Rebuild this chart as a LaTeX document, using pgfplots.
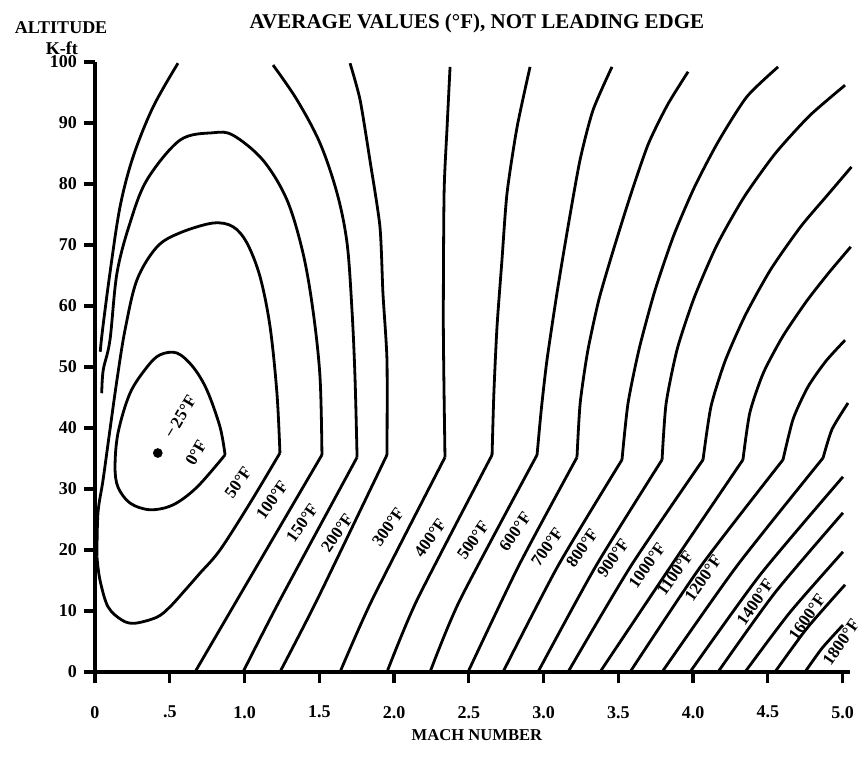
\documentclass[border=0pt]{standalone}
\usepackage{fontspec}
\setmainfont{Liberation Serif}
\usepackage{pgfplots}
\pgfplotsset{compat=1.18}

\begin{document}
\begin{tikzpicture}
\tikzset{
  iso/.style={black, line width=1.4pt, smooth, tension=0.4},
  arch/.style={iso, tension=0.55},
  lbl/.style={font=\bfseries\fontsize{8.5}{9}\selectfont, rotate=55, inner sep=0pt},
}
\begin{axis}[
    x=74.75pt, y=3.05pt,
    xmin=0, xmax=5.05,
    ymin=0, ymax=100,
    axis lines*=left,
    axis line style={line width=2pt},
    clip=false,
    xtick={0,0.5,1,1.5,2,2.5,3,3.5,4,4.5,5},
    xticklabels={0,.5,1.0,1.5,2.0,2.5,3.0,3.5,4.0,4.5,5.0},
    ytick={0,10,20,30,40,50,60,70,80,90,100},
    yticklabels={0,10,20,30,40,50,60,70,80,90,100},
    tick align=outside,
    major tick length=5.5pt,
    tick style={line width=1.6pt, black},
    ticklabel style={font=\bfseries\fontsize{9}{10}\selectfont},
    xticklabel style={yshift=-8pt},
    /pgf/number format/assume math mode=true,
]
\coordinate (O) at (axis cs:0,0);

% 0 F loop and -25 F point
\addplot[arch] coordinates {(0.870,35.6) (0.836,40.2) (0.749,46.2) (0.656,50.0) (0.548,52.3) (0.435,52.0) (0.348,50.0) (0.234,45.7) (0.154,39.2) (0.134,33.6) (0.154,30.3) (0.234,27.7) (0.368,26.6) (0.522,27.4) (0.682,30.3) (0.870,35.6)};
\addplot[only marks, mark=*, mark size=2.2pt, black] coordinates {(0.42,35.9)};

% 50 F
\addplot[arch] coordinates {(0.013,18.9) (0.033,15.1) (0.087,10.7) (0.181,8.5) (0.268,8.0) (0.415,9.0) (0.502,10.7) (0.602,13.4) (0.702,16.2) (0.836,20.0) (1.037,27.7) (1.237,35.9)};
\addplot[arch] coordinates {(1.237,35.9) (1.217,45.7) (1.171,56.6) (1.104,64.8) (1.017,70.3) (0.923,73.0) (0.789,73.6) (0.569,72.0) (0.415,69.7) (0.281,64.3) (0.201,56.1) (0.147,47.9) (0.100,39.7) (0.054,31.5) (0.020,26.1) (0.013,18.9)};

% 100 F
\addplot[iso] coordinates {(0.669,0) (0.950,11.8) (1.518,35.6)};
\addplot[arch] coordinates {(1.518,35.6) (1.505,48.4) (1.458,59.3) (1.391,68.7) (1.284,77.4) (1.124,83.9) (0.923,88.0) (0.789,88.4) (0.569,87.2) (0.348,80.7) (0.234,73.6) (0.147,65.4) (0.100,54.4) (0.055,49.5) (0.045,45.7)};

% 150 F
\addplot[iso] coordinates {(0.990,0) (1.237,11.8) (1.753,35.2)};
\addplot[arch] coordinates {(1.753,35.2) (1.739,48.4) (1.719,59.3) (1.686,70.3) (1.619,78.5) (1.505,86.7) (1.351,93.8) (1.191,99.5)};
\addplot[arch] coordinates {(0.555,99.8) (0.388,92.6) (0.254,84.4) (0.167,76.2) (0.100,65.4) (0.050,56.0) (0.035,52.5)};

% 200 F
\addplot[iso] coordinates {(1.237,0) (1.485,11.8) (1.953,35.6)};
\addplot[iso] coordinates {(1.953,35.6) (1.953,51.1) (1.926,62.1) (1.906,73.0) (1.839,83.9) (1.773,93.8) (1.706,99.8)};

% 300 F
\addplot[iso] coordinates {(1.639,0) (1.853,11.8) (2.341,35.2)};
\addplot[iso] coordinates {(2.341,35.2) (2.330,56.6) (2.335,78.5) (2.355,89.3) (2.375,99.2)};

% 400 F
\addplot[iso] coordinates {(1.953,0) (2.154,11.8) (2.656,35.6)};
\addplot[iso] coordinates {(2.656,35.6) (2.668,45.7) (2.689,56.6) (2.722,67.5) (2.756,78.5) (2.823,89.3) (2.910,99.2)};

% 500 F
\addplot[iso] coordinates {(2.241,0) (2.441,11.8) (2.957,35.6)};
\addplot[iso] coordinates {(2.957,35.6) (2.985,43.0) (3.023,51.1) (3.090,62.1) (3.164,73.0) (3.244,83.9) (3.331,92.1) (3.458,99.2)};

% 600 F
\addplot[iso] coordinates {(2.495,0) (2.836,17.5) (3.224,35.2)};
\addplot[iso] coordinates {(3.224,35.2) (3.245,44.0) (3.295,52.5) (3.370,61.0) (3.465,69.0) (3.580,78.0) (3.700,86.5) (3.830,93.0) (3.967,98.4)};

% 700 F
\addplot[iso] coordinates {(2.729,0) (3.097,17.4) (3.525,34.8)};
\addplot[iso] coordinates {(3.525,34.8) (3.565,44.0) (3.640,53.0) (3.745,62.5) (3.870,71.5) (4.010,79.5) (4.170,87.0) (4.360,94.3) (4.569,99.2)};

% 800 F
\addplot[iso] coordinates {(2.963,0) (3.351,17.4) (3.793,34.8)};
\addplot[iso] coordinates {(3.793,34.8) (3.820,44.0) (3.895,53.0) (4.010,61.5) (4.160,70.0) (4.340,77.8) (4.550,85.0) (4.780,91.2) (5.017,96.2)};

% 900 F
\addplot[iso] coordinates {(3.164,0) (3.585,17.4) (4.067,34.8)};
\addplot[iso] coordinates {(4.067,34.8) (4.120,43.5) (4.215,51.0) (4.350,58.5) (4.520,66.0) (4.720,73.0) (4.900,78.2) (5.060,82.8)};

% 1000 F
\addplot[iso] coordinates {(3.378,0) (3.853,17.4) (4.334,34.8)};
\addplot[iso] coordinates {(4.334,34.8) (4.380,42.5) (4.470,49.0) (4.600,55.0) (4.760,60.8) (4.910,65.5) (5.055,69.7)};

% 1100 F
\addplot[iso] coordinates {(3.579,0) (4.054,17.4) (4.602,34.8)};
\addplot[iso] coordinates {(4.602,34.8) (4.670,41.5) (4.770,46.8) (4.890,51.0) (5.017,54.4)};

% 1200 F
\addplot[iso] coordinates {(3.793,0) (4.294,17.4) (4.870,35.1)};
\addplot[iso] coordinates {(4.870,35.1) (4.930,39.8) (5.037,44.1)};

% 1300 - 1700 F
\addplot[iso] coordinates {(3.980,0) (4.448,15.9) (5.003,32.0)};
\addplot[iso] coordinates {(4.167,0) (4.548,13.0) (5.003,26.1)};
\addplot[iso] coordinates {(4.348,0) (4.649,9.8) (5.003,19.7)};
\addplot[iso] coordinates {(4.548,0) (4.763,7.2) (5.017,14.3)};
\addplot[iso] coordinates {(4.749,0) (4.863,3.9) (5.003,7.7)};

% contour labels
\node[lbl, rotate=4] at (axis cs:0.569,41.8) {−\,25°F};
\node[lbl, rotate=5] at (axis cs:0.676,35.9) {0°F};
\node[lbl] at (axis cs:0.957,31.1) {50°F};
\node[lbl] at (axis cs:1.184,28.2) {100°F};
\node[lbl] at (axis cs:1.385,24.4) {150°F};
\node[lbl] at (axis cs:1.619,22.8) {200°F};
\node[lbl] at (axis cs:1.960,23.8) {300°F};
\node[lbl] at (axis cs:2.241,22.0) {400°F};
\node[lbl] at (axis cs:2.528,21.6) {500°F};
\node[lbl] at (axis cs:2.809,23.0) {600°F};
\node[lbl] at (axis cs:3.023,20.5) {700°F};
\node[lbl] at (axis cs:3.258,20.3) {800°F};
\node[lbl] at (axis cs:3.465,18.7) {900°F};
\node[lbl] at (axis cs:3.692,17.5) {1000°F};
\node[lbl] at (axis cs:3.880,16.2) {1100°F};
\node[lbl] at (axis cs:4.067,15.4) {1200°F};
\node[lbl] at (axis cs:4.415,11.5) {1400°F};
\node[lbl] at (axis cs:4.763,9.0) {1600°F};
\node[lbl] at (axis cs:4.990,4.9) {1800°F};

% titles
\node[font=\bfseries\fontsize{10.5}{12}\selectfont] at (axis cs:2.555,106.4) {AVERAGE VALUES (°F), NOT LEADING EDGE};
\node[font=\bfseries\fontsize{9}{10}\selectfont] at (axis cs:-0.227,105.7) {ALTITUDE};
\node[font=\bfseries\fontsize{9}{10}\selectfont] at (axis cs:-0.221,102.2) {K-ft};
\node[font=\bfseries\fontsize{8.3}{10}\selectfont] at (axis cs:2.555,-10.3) {MACH NUMBER};
\end{axis}
\pgfresetboundingbox
\path ([shift={(-47.5pt,-48pt)}]O) rectangle ([shift={(385pt,336pt)}]O);
\end{tikzpicture}
\end{document}
